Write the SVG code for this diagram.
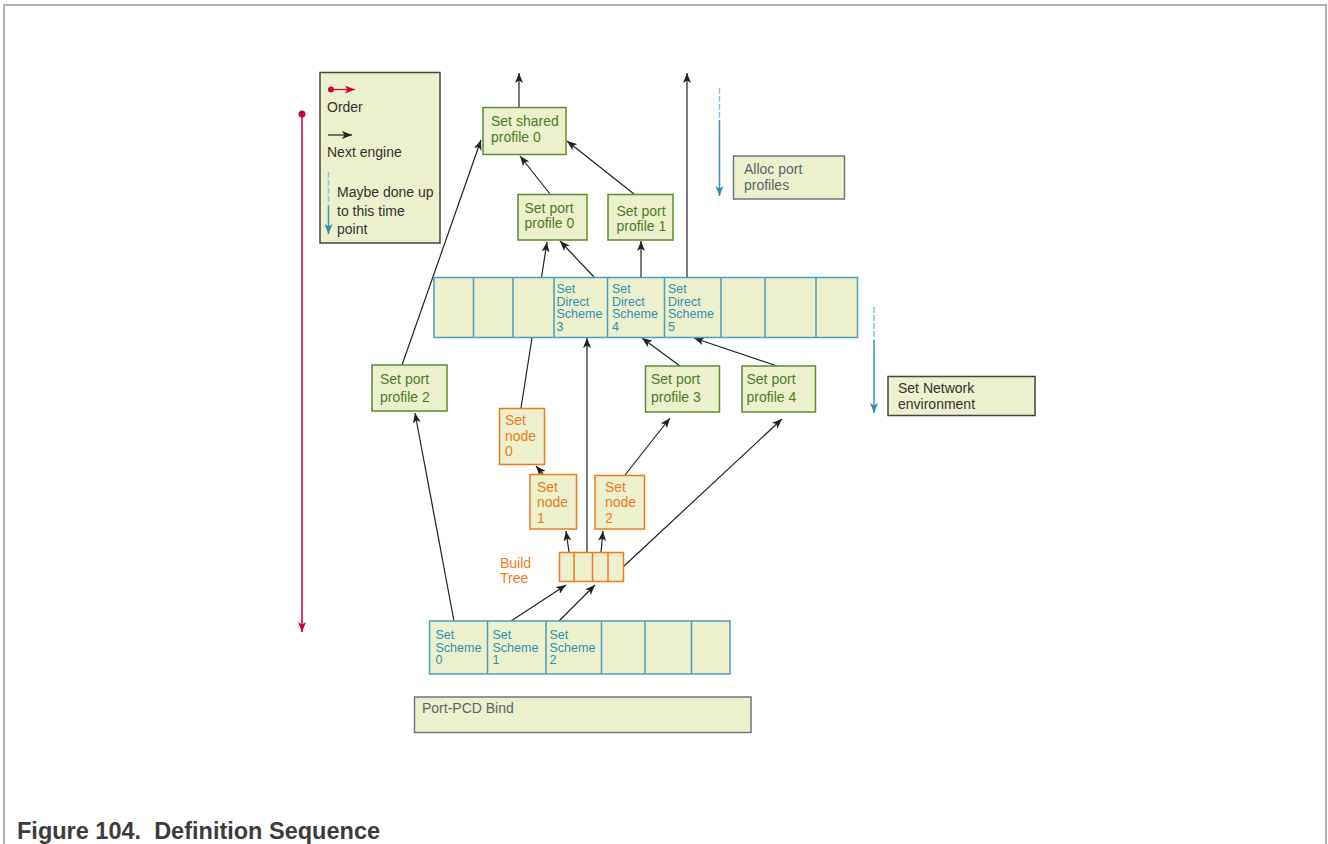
<svg xmlns="http://www.w3.org/2000/svg" width="1328" height="844" viewBox="0 0 1328 844">
<style>
text{font-family:"Liberation Sans",Arial,sans-serif;}
.bx{fill:#ecf0cd;}
.g{stroke:#5f8a30;stroke-width:1.5;}
.gt{fill:#4e7d1f;font-size:14px;}
.c{stroke:#4f9db8;stroke-width:1.5;}
.ct{fill:#3090b3;font-size:12.5px;}
.o{stroke:#f07a1e;stroke-width:1.5;}
.ot{fill:#ef7a1d;font-size:14px;}
.gr{stroke:#6b7783;stroke-width:1.5;}
.grt{fill:#5b6570;font-size:14px;}
.dk{stroke:#444;stroke-width:1.5;}
.dkt{fill:#333;font-size:14px;}
.ln{stroke:#222;stroke-width:1.2;fill:none;marker-end:url(#ah);}
.cy{stroke:#3a93b3;stroke-width:1.5;fill:none;}
.cyd{stroke:#8cc5d6;stroke-width:1.5;fill:none;stroke-dasharray:6 2;}
</style>
<defs>
<marker id="ah" viewBox="0 0 10 8" refX="10" refY="4" markerWidth="10" markerHeight="8" markerUnits="userSpaceOnUse" orient="auto"><path d="M0,0 L10,4 L0,8 L2.5,4 z" fill="#222"/></marker>
<marker id="ahc" viewBox="0 0 8 10" refX="4" refY="10" markerWidth="8" markerHeight="10" markerUnits="userSpaceOnUse" orient="0"><path d="M0,0 L4,2.5 L8,0 L4,10 z" fill="#2f8fb2"/></marker>
<marker id="ahr" viewBox="0 0 8 10" refX="4" refY="10" markerWidth="8" markerHeight="10" markerUnits="userSpaceOnUse" orient="0"><path d="M0,0 L4,2.5 L8,0 L4,10 z" fill="#d2003a"/></marker>
<marker id="ahrr" viewBox="0 0 10 8" refX="10" refY="4" markerWidth="10" markerHeight="8" markerUnits="userSpaceOnUse" orient="auto"><path d="M0,0 L10,4 L0,8 L2.5,4 z" fill="#d2003a"/></marker>
</defs>

<path d="M4,844 V5 H1326 V844" fill="none" stroke="#999" stroke-width="1.5"/>

<g id="legend">
<rect class="bx dk" x="320" y="72.5" width="120" height="170.5"/>
<circle cx="331" cy="89.5" r="3" fill="#d2003a"/>
<line x1="331" y1="89.5" x2="355" y2="89.5" stroke="#d2003a" stroke-width="1.2" marker-end="url(#ahrr)"/>
<text class="dkt" x="327" y="112">Order</text>
<line x1="328" y1="135" x2="352" y2="135" class="ln"/>
<text class="dkt" x="327" y="157">Next engine</text>
<line x1="328.5" y1="172" x2="328.5" y2="206" class="cyd"/>
<line x1="328.5" y1="206" x2="328.5" y2="234" class="cy" marker-end="url(#ahc)"/>
<text class="dkt" x="337" y="197">Maybe done up</text>
<text class="dkt" x="337" y="216">to this time</text>
<text class="dkt" x="337" y="234">point</text>
</g>

<g id="order-line">
<circle cx="302" cy="114" r="3.5" fill="#d2003a"/>
<line x1="302" y1="114" x2="302" y2="632" stroke="#d2003a" stroke-width="1.5" marker-end="url(#ahr)"/>
</g>

<g id="connectors">
<line x1="519" y1="107" x2="519" y2="73" class="ln"/>
<line x1="687" y1="277" x2="687" y2="73" class="ln"/>
<line x1="550" y1="194" x2="520" y2="156" class="ln"/>
<line x1="634" y1="194" x2="567" y2="141" class="ln"/>
<line x1="402" y1="365" x2="481" y2="140" class="ln"/>
<line x1="594" y1="277" x2="560" y2="241" class="ln"/>
<line x1="521" y1="408" x2="547" y2="242" class="ln"/>
<line x1="641" y1="277" x2="641" y2="241" class="ln"/>
<line x1="587" y1="552" x2="587" y2="338" class="ln"/>
<line x1="680" y1="366" x2="642" y2="338" class="ln"/>
<line x1="777" y1="366" x2="694" y2="338" class="ln"/>
<line x1="543" y1="474" x2="536" y2="466" class="ln"/>
<line x1="569" y1="552" x2="566" y2="531" class="ln"/>
<line x1="601" y1="552" x2="603" y2="531" class="ln"/>
<line x1="625" y1="475" x2="670" y2="418" class="ln"/>
<line x1="623" y1="567" x2="782" y2="419" class="ln"/>
<line x1="454" y1="621" x2="415" y2="413" class="ln"/>
<line x1="511" y1="621" x2="566" y2="585" class="ln"/>
<line x1="559" y1="621" x2="595" y2="585" class="ln"/>
<line x1="719.5" y1="88" x2="719.5" y2="120" class="cyd"/>
<line x1="719.5" y1="120" x2="719.5" y2="196" class="cy" marker-end="url(#ahc)"/>
<line x1="874" y1="307" x2="874" y2="340" class="cyd"/>
<line x1="874" y1="340" x2="874" y2="413" class="cy" marker-end="url(#ahc)"/>
</g>

<g id="shared-profile-0">
<rect class="bx g" x="483" y="107.5" width="83" height="47"/>
<text class="gt" x="491" y="126">Set shared</text>
<text class="gt" x="491" y="141.5">profile 0</text>
</g>

<g id="port-profile-0">
<rect class="bx g" x="518" y="194.5" width="69" height="45.5"/>
<text class="gt" x="524.5" y="212.5">Set port</text>
<text class="gt" x="524.5" y="228">profile 0</text>
</g>

<g id="port-profile-1">
<rect class="bx g" x="608" y="194.5" width="65" height="45.5"/>
<text class="gt" x="616.5" y="215.5">Set port</text>
<text class="gt" x="616.5" y="231">profile 1</text>
</g>

<g id="alloc-port-profiles">
<rect class="bx gr" x="733.5" y="156" width="111" height="43"/>
<text class="grt" x="744" y="173.5">Alloc port</text>
<text class="grt" x="744" y="189.5">profiles</text>
</g>

<g id="direct-scheme-row">
<rect class="bx c" x="434" y="277.5" width="423.5" height="60"/>
<line class="c" x1="473.5" y1="277.5" x2="473.5" y2="337.5"/>
<line class="c" x1="513" y1="277.5" x2="513" y2="337.5"/>
<line class="c" x1="554" y1="277.5" x2="554" y2="337.5"/>
<line class="c" x1="607.5" y1="277.5" x2="607.5" y2="337.5"/>
<line class="c" x1="664.5" y1="277.5" x2="664.5" y2="337.5"/>
<line class="c" x1="721" y1="277.5" x2="721" y2="337.5"/>
<line class="c" x1="765" y1="277.5" x2="765" y2="337.5"/>
<line class="c" x1="816" y1="277.5" x2="816" y2="337.5"/>
<text class="ct" x="556.5" y="293">Set</text>
<text class="ct" x="556.5" y="305.5">Direct</text>
<text class="ct" x="556.5" y="318">Scheme</text>
<text class="ct" x="556.5" y="330.5">3</text>
<text class="ct" x="612" y="293">Set</text>
<text class="ct" x="612" y="305.5">Direct</text>
<text class="ct" x="612" y="318">Scheme</text>
<text class="ct" x="612" y="330.5">4</text>
<text class="ct" x="668" y="293">Set</text>
<text class="ct" x="668" y="305.5">Direct</text>
<text class="ct" x="668" y="318">Scheme</text>
<text class="ct" x="668" y="330.5">5</text>
</g>

<g id="port-profile-2">
<rect class="bx g" x="372" y="365" width="75" height="46"/>
<text class="gt" x="380" y="384">Set port</text>
<text class="gt" x="380" y="401.5">profile 2</text>
</g>

<g id="port-profile-3">
<rect class="bx g" x="645.5" y="366" width="74" height="46"/>
<text class="gt" x="651" y="384">Set port</text>
<text class="gt" x="651" y="401.5">profile 3</text>
</g>

<g id="port-profile-4">
<rect class="bx g" x="742" y="366" width="73.5" height="46"/>
<text class="gt" x="746.5" y="384">Set port</text>
<text class="gt" x="746.5" y="401.5">profile 4</text>
</g>

<g id="set-network-environment">
<rect class="bx dk" x="888" y="376.5" width="147" height="39"/>
<text class="dkt" x="898" y="393">Set Network</text>
<text class="dkt" x="898" y="409">environment</text>
</g>

<g id="set-node-0">
<rect class="bx o" x="499.5" y="408.5" width="45" height="56"/>
<text class="ot" x="505" y="425">Set</text>
<text class="ot" x="505" y="440.5">node</text>
<text class="ot" x="505" y="455.5">0</text>
</g>

<g id="set-node-1">
<rect class="bx o" x="530" y="474.5" width="46.5" height="54.5"/>
<text class="ot" x="537" y="491.5">Set</text>
<text class="ot" x="537" y="507">node</text>
<text class="ot" x="537" y="522.5">1</text>
</g>

<g id="set-node-2">
<rect class="bx o" x="595" y="475.5" width="49.5" height="53.5"/>
<text class="ot" x="605" y="491.5">Set</text>
<text class="ot" x="605" y="507">node</text>
<text class="ot" x="605" y="522.5">2</text>
</g>

<g id="build-tree">
<rect class="bx o" x="559.5" y="552.5" width="64" height="29"/>
<line class="o" x1="574" y1="552.5" x2="574" y2="581.5"/>
<line class="o" x1="592.5" y1="552.5" x2="592.5" y2="581.5"/>
<line class="o" x1="608" y1="552.5" x2="608" y2="581.5"/>
<text class="ot" x="500" y="567.5">Build</text>
<text class="ot" x="500" y="583">Tree</text>
</g>

<g id="set-scheme-row">
<rect class="bx c" x="429.5" y="621" width="300.5" height="53"/>
<line class="c" x1="487.5" y1="621" x2="487.5" y2="674"/>
<line class="c" x1="546" y1="621" x2="546" y2="674"/>
<line class="c" x1="601.5" y1="621" x2="601.5" y2="674"/>
<line class="c" x1="645" y1="621" x2="645" y2="674"/>
<line class="c" x1="691.5" y1="621" x2="691.5" y2="674"/>
<text class="ct" x="435.5" y="639">Set</text>
<text class="ct" x="435.5" y="651.5">Scheme</text>
<text class="ct" x="435.5" y="664">0</text>
<text class="ct" x="492.5" y="639">Set</text>
<text class="ct" x="492.5" y="651.5">Scheme</text>
<text class="ct" x="492.5" y="664">1</text>
<text class="ct" x="549.5" y="639">Set</text>
<text class="ct" x="549.5" y="651.5">Scheme</text>
<text class="ct" x="549.5" y="664">2</text>
</g>

<g id="port-pcd-bind">
<rect class="bx gr" x="414.5" y="697" width="336.5" height="35.5"/>
<text class="grt" x="422" y="713">Port-PCD Bind</text>
</g>

<text x="17" y="839" font-size="23.5" font-weight="bold" fill="#3c3c3c">Figure 104.&#160; Definition Sequence</text>
</svg>
